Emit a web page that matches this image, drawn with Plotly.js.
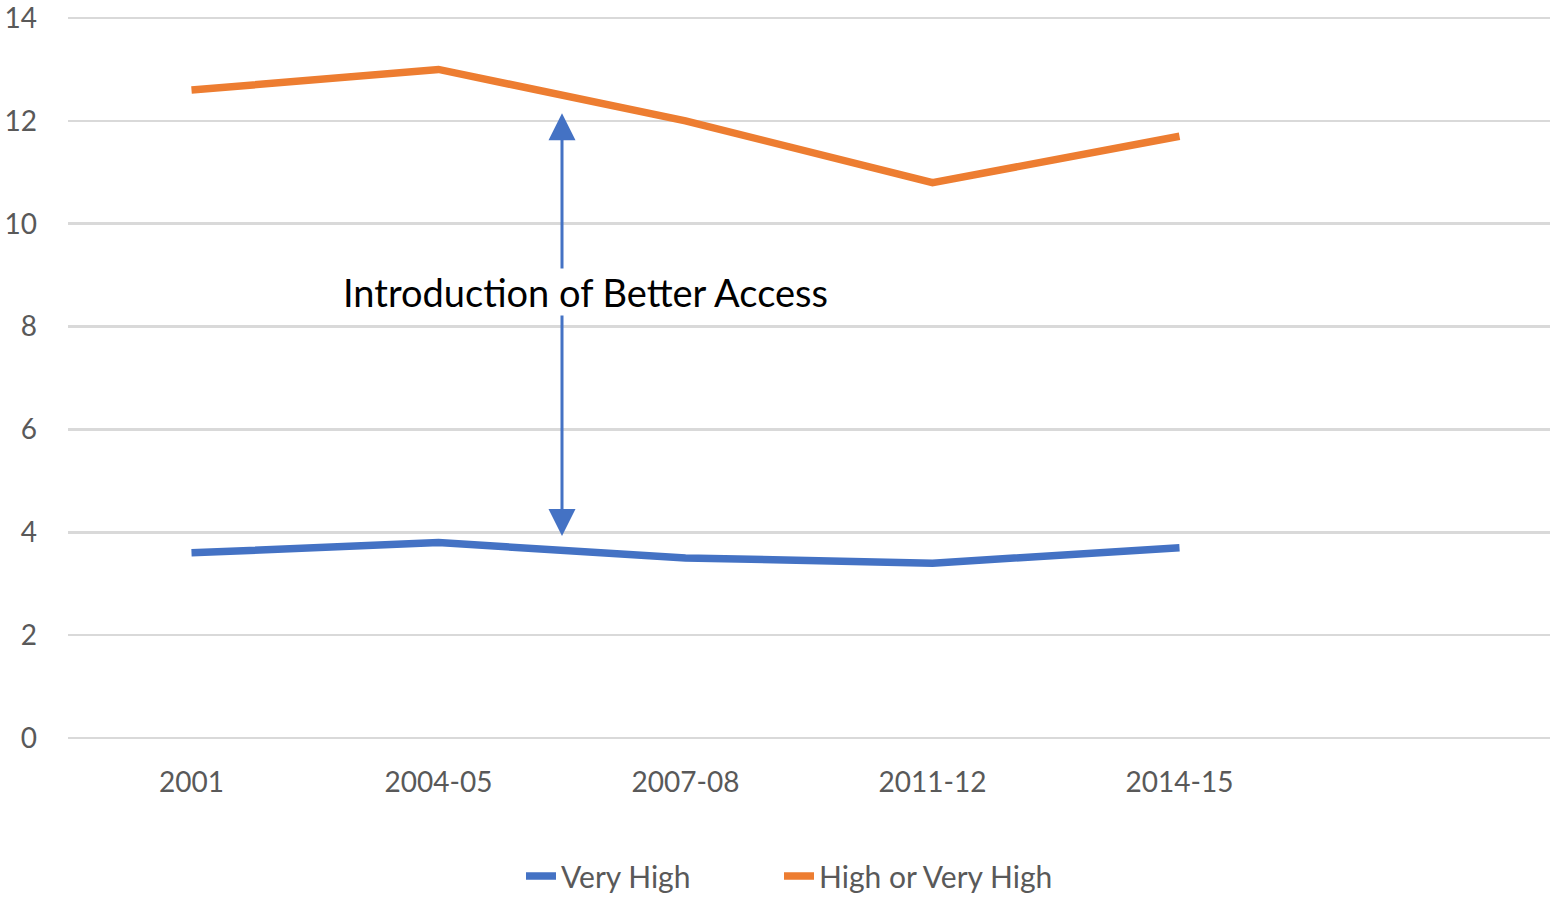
<!DOCTYPE html>
<html>
<head>
<meta charset="utf-8">
<script src="https://cdn.plot.ly/plotly-3.0.1.min.js"></script>
<style>html,body{margin:0;padding:0;background:#fff;}#chart{width:1557px;height:898px;}</style>
</head>
<body>
<div id="chart"></div>
<script>
const categories = ["2001", "2004-05", "2007-08", "2011-12", "2014-15", " "];
const veryHigh = [3.6, 3.8, 3.5, 3.4, 3.7];
const highOrVeryHigh = [12.6, 13.0, 12.0, 10.8, 11.7];
const yTicks = [0, 2, 4, 6, 8, 10, 12, 14];
const annotationText = "Introduction of Better Access";
const arrowX = 1.5, arrowBottom = 3.9, arrowTop = 12.15;

const FONT = "Lato, 'Open Sans', sans-serif";

const traces = [
  {x: categories.slice(0, veryHigh.length), y: veryHigh, name: "Very High", type: "scatter", mode: "lines",
   line: {color: "#4472C4", width: 7.5}, legend: "legend"},
  {x: categories.slice(0, highOrVeryHigh.length), y: highOrVeryHigh, name: "High or Very High", type: "scatter", mode: "lines",
   line: {color: "#ED7D31", width: 7.5}, legend: "legend2"}
];

const legendBase = {orientation: "h", xref: "container", xanchor: "left", yref: "container",
  y: 1 - 876 / 898, yanchor: "middle", font: {size: 30, color: "#595959"}, bgcolor: "rgba(0,0,0,0)"};

const layout = {
  width: 1557, height: 898,
  margin: {l: 68, r: 7, t: 17, b: 159},
  paper_bgcolor: "#fff", plot_bgcolor: "#fff",
  font: {family: FONT, color: "#595959", size: 28},
  showlegend: true,
  legend: Object.assign({}, legendBase, {x: 521 / 1557}),
  legend2: Object.assign({}, legendBase, {x: 779 / 1557}),
  xaxis: {type: "category", categoryorder: "array", categoryarray: categories,
    range: [-0.5, categories.length - 0.5], showgrid: false, zeroline: false, showline: false, automargin: false,
    ticks: "", ticklabelstandoff: 24, tickfont: {size: 28, color: "#595959", family: FONT}, fixedrange: true},
  yaxis: {range: [-0.02, 14.02], tickvals: yTicks, showgrid: true, gridcolor: "#D9D9D9", gridwidth: 2.5,
    zeroline: false, showline: false, ticks: "", ticklabelstandoff: 30, automargin: false, ticklabeloverflow: "allow",
    tickfont: {size: 28, color: "#595959", family: FONT}, fixedrange: true},
  annotations: [
    {x: arrowX, y: arrowTop, ax: arrowX, ay: arrowBottom, xref: "x", yref: "y", axref: "x", ayref: "y",
     text: "", showarrow: true, arrowside: "end+start", arrowhead: 2, arrowsize: 1.8, arrowwidth: 3,
     arrowcolor: "#4472C4", standoff: 0, startstandoff: 0},
    {x: 1.597, y: 8.67, xref: "x", yref: "y", text: annotationText, showarrow: false,
     font: {family: FONT, size: 38, color: "#000"}, bgcolor: "#fff", borderpad: 0}
  ]
};

Plotly.newPlot("chart", traces, layout, {displayModeBar: false, staticPlot: true});
</script>
</body>
</html>
